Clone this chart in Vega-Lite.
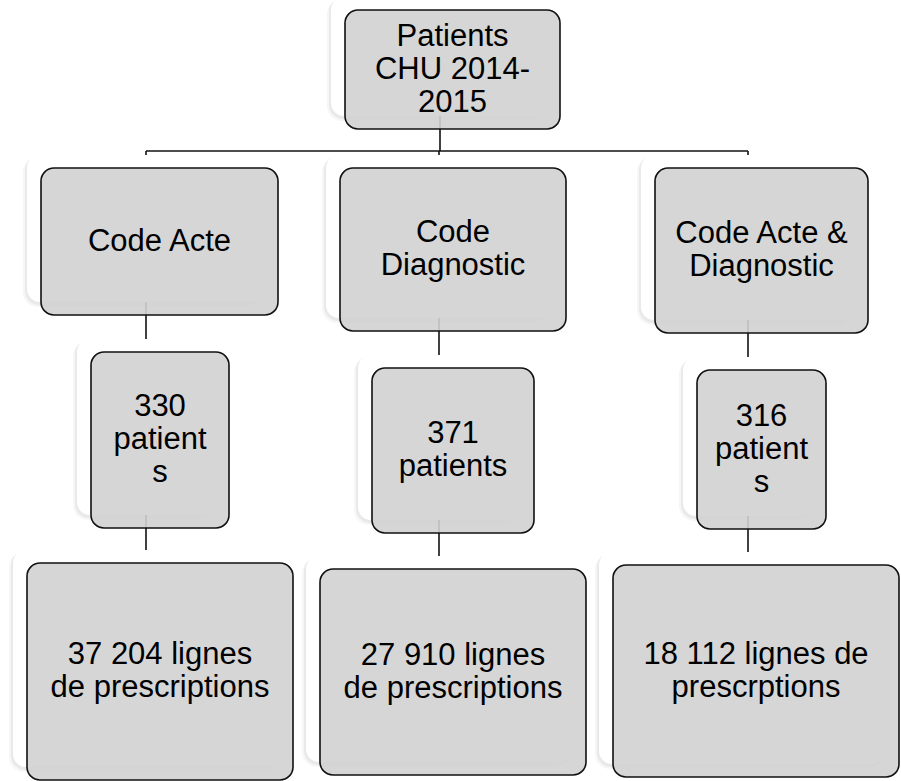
{
  "$schema": "https://vega.github.io/schema/vega-lite/v6.json",
  "width": 901,
  "height": 781,
  "padding": 0,
  "autosize": "none",
  "background": "white",
  "config": {"view": {"stroke": null}},
  "datasets": {
    "nodes": [
      {"id": "root", "label": ["Patients", "CHU 2014-", "2015"], "lines": 3, "x0": 331, "x1": 546, "y0": -3, "y1": 116, "cx": 438.5, "cy": 56.5},
      {"id": "acte", "label": ["Code Acte"], "lines": 1, "x0": 27, "x1": 264, "y0": 155, "y1": 302, "cx": 145.5, "cy": 228.5},
      {"id": "diag", "label": ["Code", "Diagnostic"], "lines": 2, "x0": 326, "x1": 552, "y0": 155, "y1": 318, "cx": 439, "cy": 236.5},
      {"id": "both", "label": ["Code Acte &", "Diagnostic"], "lines": 2, "x0": 641, "x1": 854, "y0": 155, "y1": 320, "cx": 747.5, "cy": 237.5},
      {"id": "p330", "label": ["330", "patient", "s"], "lines": 3, "x0": 77, "x1": 215, "y0": 339, "y1": 515, "cx": 146, "cy": 427},
      {"id": "p371", "label": ["371", "patients"], "lines": 2, "x0": 358, "x1": 520, "y0": 355, "y1": 520, "cx": 439, "cy": 437.5},
      {"id": "p316", "label": ["316", "patient", "s"], "lines": 3, "x0": 683, "x1": 812, "y0": 357, "y1": 516, "cx": 747.5, "cy": 436.5},
      {"id": "l1", "label": ["37 204 lignes", "de prescriptions"], "lines": 2, "x0": 13, "x1": 279, "y0": 550, "y1": 767, "cx": 146, "cy": 658.5},
      {"id": "l2", "label": ["27 910 lignes", "de prescriptions"], "lines": 2, "x0": 306, "x1": 572, "y0": 556, "y1": 762, "cx": 439, "cy": 659},
      {"id": "l3", "label": ["18 112 lignes de", "prescrptions"], "lines": 2, "x0": 599, "x1": 885, "y0": 552, "y1": 764, "cx": 742, "cy": 658}
    ],
    "edges": [
      {"from": "root", "to": "bus", "x1": 440, "y1": 56, "x2": 440, "y2": 151},
      {"from": "bus", "to": "bus", "x1": 146, "y1": 151, "x2": 748, "y2": 151},
      {"from": "bus", "to": "acte", "x1": 146, "y1": 151, "x2": 146, "y2": 228},
      {"from": "bus", "to": "diag", "x1": 439, "y1": 151, "x2": 439, "y2": 236},
      {"from": "bus", "to": "both", "x1": 748, "y1": 151, "x2": 748, "y2": 237},
      {"from": "acte", "to": "p330", "x1": 146, "y1": 228, "x2": 146, "y2": 427},
      {"from": "diag", "to": "p371", "x1": 439, "y1": 236, "x2": 439, "y2": 437},
      {"from": "both", "to": "p316", "x1": 748, "y1": 237, "x2": 748, "y2": 436},
      {"from": "p330", "to": "l1", "x1": 146, "y1": 427, "x2": 146, "y2": 658},
      {"from": "p371", "to": "l2", "x1": 439, "y1": 437, "x2": 439, "y2": 659},
      {"from": "p316", "to": "l3", "x1": 748, "y1": 436, "x2": 748, "y2": 658}
    ]
  },
  "layer": [
    {
      "data": {"name": "edges"},
      "mark": {"type": "rule", "color": "#111111", "strokeWidth": 1.6},
      "encoding": {
        "x": {"field": "x1", "type": "quantitative", "scale": {"domain": [0, 901], "nice": false, "zero": false}, "axis": null},
        "y": {"field": "y1", "type": "quantitative", "scale": {"domain": [0, 781], "nice": false, "zero": false, "reverse": true}, "axis": null},
        "x2": {"field": "x2"},
        "y2": {"field": "y2"}
      }
    },
    {
      "data": {"name": "nodes"},
      "mark": {"type": "rect", "fill": "#000000", "fillOpacity": 0.035, "cornerRadius": 15, "xOffset": -4, "x2Offset": -2, "yOffset": 2, "y2Offset": 5},
      "encoding": {
        "x": {"field": "x0", "type": "quantitative"},
        "x2": {"field": "x1"},
        "y": {"field": "y0", "type": "quantitative"},
        "y2": {"field": "y1"}
      }
    },
    {
      "data": {"name": "nodes"},
      "mark": {"type": "rect", "fill": "#000000", "fillOpacity": 0.05, "cornerRadius": 14, "xOffset": -2, "x2Offset": -1, "yOffset": 1, "y2Offset": 3},
      "encoding": {
        "x": {"field": "x0", "type": "quantitative"},
        "x2": {"field": "x1"},
        "y": {"field": "y0", "type": "quantitative"},
        "y2": {"field": "y1"}
      }
    },
    {
      "data": {"name": "nodes"},
      "mark": {"type": "rect", "fill": "#ffffff", "cornerRadius": 13},
      "encoding": {
        "x": {"field": "x0", "type": "quantitative"},
        "x2": {"field": "x1"},
        "y": {"field": "y0", "type": "quantitative"},
        "y2": {"field": "y1"}
      }
    },
    {
      "data": {"name": "nodes"},
      "mark": {"type": "rect", "fill": "#d2d2d2", "fillOpacity": 0.9, "stroke": "#111111", "strokeWidth": 1.6, "cornerRadius": 13, "xOffset": 14, "x2Offset": 14, "yOffset": 13, "y2Offset": 13},
      "encoding": {
        "x": {"field": "x0", "type": "quantitative"},
        "x2": {"field": "x1"},
        "y": {"field": "y0", "type": "quantitative"},
        "y2": {"field": "y1"}
      }
    },
    {
      "data": {"name": "nodes"},
      "transform": [{"filter": "datum.lines == 1"}],
      "mark": {"type": "text", "font": "Liberation Sans", "fontSize": 31, "lineHeight": 33, "color": "#000000", "align": "center", "baseline": "middle", "xOffset": 14, "yOffset": 13},
      "encoding": {
        "x": {"field": "cx", "type": "quantitative"},
        "y": {"field": "cy", "type": "quantitative"},
        "text": {"field": "label"}
      }
    },
    {
      "data": {"name": "nodes"},
      "transform": [{"filter": "datum.lines == 2"}],
      "mark": {"type": "text", "font": "Liberation Sans", "fontSize": 31, "lineHeight": 33, "color": "#000000", "align": "center", "baseline": "middle", "xOffset": 14, "yOffset": -3.5},
      "encoding": {
        "x": {"field": "cx", "type": "quantitative"},
        "y": {"field": "cy", "type": "quantitative"},
        "text": {"field": "label"}
      }
    },
    {
      "data": {"name": "nodes"},
      "transform": [{"filter": "datum.lines == 3"}],
      "mark": {"type": "text", "font": "Liberation Sans", "fontSize": 31, "lineHeight": 33, "color": "#000000", "align": "center", "baseline": "middle", "xOffset": 14, "yOffset": -20},
      "encoding": {
        "x": {"field": "cx", "type": "quantitative"},
        "y": {"field": "cy", "type": "quantitative"},
        "text": {"field": "label"}
      }
    }
  ]
}
